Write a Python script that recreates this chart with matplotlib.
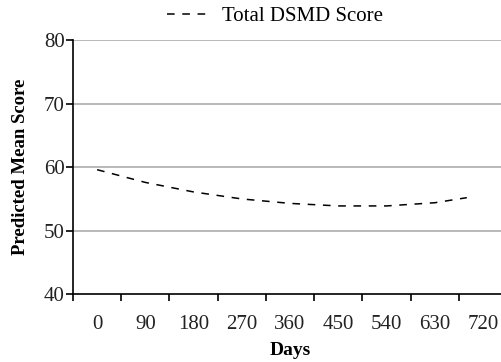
import matplotlib
matplotlib.use("Agg")
import matplotlib.pyplot as plt
from matplotlib.ticker import FixedLocator

plt.rcParams['font.family'] = ['Liberation Serif', 'DejaVu Serif']

days = [0, 90, 180, 270, 360, 450, 540, 630, 690]
score = [59.6, 57.6, 56.1, 55.0, 54.3, 53.9, 53.9, 54.4, 55.2]
x_ticklabels = [0, 90, 180, 270, 360, 450, 540, 630, 720]
y_ticks = [40, 50, 60, 70, 80]

fig = plt.figure(figsize=(5.01, 3.62), dpi=100)
ax = fig.add_axes([73/501, (362-294.3)/362, (507-73)/501, (294.3-40)/362])

ax.plot(days, score, color='black', lw=1.1, dashes=(5, 5), label='Total DSMD Score')

ax.set_xlim(-45, 765)
ax.set_ylim(40, 80)
ax.set_yticks(y_ticks)
ax.set_xticks(x_ticklabels)
ax.set_xticklabels([str(v) for v in x_ticklabels])
ax.xaxis.set_minor_locator(FixedLocator([-45 + 90*k for k in range(10)]))
ax.tick_params(axis='x', which='major', length=0, pad=15, labelsize=15, colors='#222222')
ax.tick_params(axis='x', which='minor', length=5, width=1.2, direction='out', color='black')
ax.tick_params(axis='y', which='major', length=5, width=1.2, direction='out', labelsize=15,
               labelcolor='#222222', pad=1)

for yv in [50, 60, 70, 80]:
    ax.axhline(yv, color='#a6a6a6', lw=1.1, zorder=0)

for s in ['top', 'right']:
    ax.spines[s].set_visible(False)
for s in ['left', 'bottom']:
    ax.spines[s].set_linewidth(1.2)
    ax.spines[s].set_color('black')

ax.set_ylabel('Predicted Mean Score', fontsize=13.5, fontweight='bold', labelpad=11)
ax.set_xlabel('Days', fontsize=14, fontweight='bold', labelpad=6)

leg = fig.legend(loc='center', bbox_to_anchor=(275/501, 1 - 16/362), frameon=False,
                 fontsize=15, handlelength=2.0, handletextpad=0.6)

fig.savefig('out.png', dpi=100)
